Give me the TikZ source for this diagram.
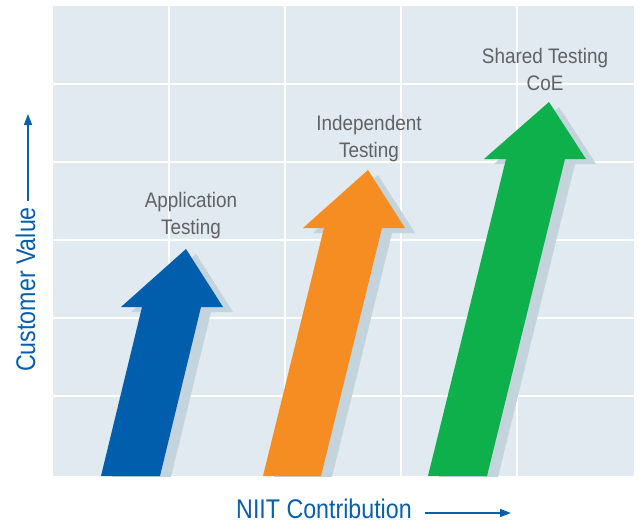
\documentclass[tikz,border=0pt]{standalone}
\usepackage{fontspec}
\setmainfont{Liberation Sans}[FakeStretch=0.9]
\newfontfamily\axisfont{Liberation Sans}[FakeStretch=0.86]
\usetikzlibrary{arrows.meta}
\definecolor{bgfill}{HTML}{E1E9F1}
\definecolor{arrowshadow}{HTML}{C4D4DC}
\definecolor{ablue}{HTML}{005EAD}
\definecolor{aorange}{HTML}{F58D22}
\definecolor{agreen}{HTML}{0DB04B}
\definecolor{labgrey}{HTML}{616264}
\definecolor{axblue}{HTML}{0A5FAA}
\tikzset{
  gridline/.style={white, line width=1.3pt},
  lab/.style={text=labgrey, font=\fontsize{21}{27}\selectfont, align=center, inner sep=0pt, anchor=base},
  axlab/.style={text=axblue, font=\axisfont\fontsize{27}{32}\selectfont, inner sep=0pt, anchor=base, text depth=0pt},
  axarrow/.style={axblue, line width=1.4pt, -{Triangle[length=11pt,width=8pt]}}
}
\begin{document}
\begin{tikzpicture}[x=1pt,y=-1pt]
\useasboundingbox (0,0) rectangle (639,522);
% background grid
\fill[bgfill] (53,6) rectangle (634,476);
\foreach \gx in {169,285,401,517} \draw[gridline] (\gx,6) -- (\gx,476);
\foreach \gy in {84,162,240,318,396} \draw[gridline] (53,\gy) -- (634,\gy);
% shadows
\begin{scope}
\clip (53,6) rectangle (634,476);
\begin{scope}[shift={(10,5)}]
\fill[arrowshadow] (101,476) -- (142,307) -- (121,307) -- (186,249) -- (223,307) -- (201,307) -- (160,476) -- cycle;
\fill[arrowshadow] (263,476) -- (324,228) -- (303,228) -- (368,170) -- (405,228) -- (382,228) -- (321,476) -- cycle;
\fill[arrowshadow] (428,476) -- (506,159) -- (484,159) -- (549,102) -- (586,159) -- (565,159) -- (487,476) -- cycle;
\end{scope}
\end{scope}
% arrows
\fill[ablue] (101,476) -- (142,307) -- (121,307) -- (186,249) -- (223,307) -- (201,307) -- (160,476) -- cycle;
\fill[aorange] (263,476) -- (324,228) -- (303,228) -- (368,170) -- (405,228) -- (382,228) -- (321,476) -- cycle;
\fill[agreen] (428,476) -- (506,159) -- (484,159) -- (549,102) -- (586,159) -- (565,159) -- (487,476) -- cycle;
% labels (base anchor = last line baseline)
\node[lab] (app) at (191,234) {Application\\Testing};
\node[lab] (ind) at (369,157) {Independent\\Testing};
\node[lab] (coe) at (545,90) {Shared Testing\\CoE};
% axes
\node[axlab, rotate=90] (cv) at (35,289.5) {Customer Value};
\coordinate (cvs) at (28,201);
\coordinate (cve) at (28,114);
\draw[axarrow] (cvs) -- (cve);
\node[axlab] (niit) at (324,518) {NIIT Contribution};
\coordinate (nis) at (425,513);
\coordinate (nie) at (511,513);
\draw[axarrow] (nis) -- (nie);
\end{tikzpicture}
\end{document}
